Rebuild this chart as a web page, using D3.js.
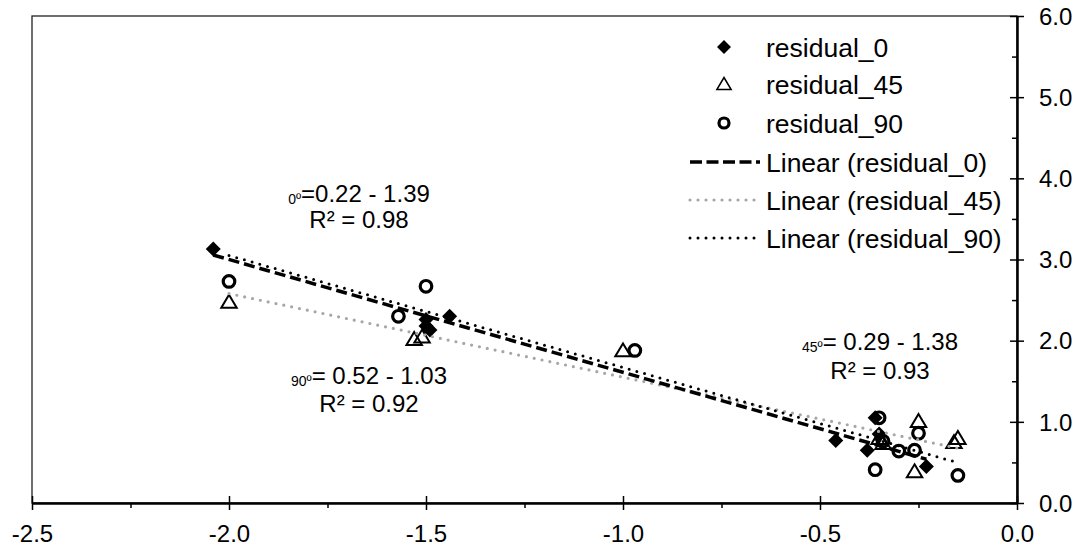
<!DOCTYPE html>
<html>
<head>
<meta charset="UTF-8">
<style>
  body { margin: 0; background: #fff; }
  svg text { font-family: "Liberation Sans", Arial, sans-serif; fill: #000; }
  .axis path { stroke: #000; stroke-width: 2.5; }
  .axis line { stroke: #000; stroke-width: 1.5; }
  .axis text { font-size: 24px; }
</style>
<script src="https://cdn.jsdelivr.net/npm/d3@7"></script>
</head>
<body>
<svg width="1083" height="550"></svg>
<script>
// data
var res0X = [-2.04, -1.50, -1.50, -1.49, -1.44, -0.46, -0.38, -0.36, -0.35, -0.23];
var res0Y = [3.13, 2.26, 2.18, 2.13, 2.30, 0.77, 0.65, 1.05, 0.85, 0.45];

var res45X = [-2.00, -1.53, -1.51, -1.00, -0.35, -0.34, -0.25, -0.26, -0.16, -0.15];
var res45Y = [2.48, 2.02, 2.05, 1.88, 0.80, 0.74, 1.01, 0.39, 0.75, 0.80];

var res90X = [-2.00, -1.57, -1.50, -0.97, -0.35, -0.36, -0.30, -0.26, -0.25, -0.15, -0.34];
var res90Y = [2.73, 2.30, 2.67, 1.88, 1.05, 0.41, 0.64, 0.65, 0.86, 0.34, 0.76];

// trendlines: [intercept, slope, xmin, xmax]
var trend0 = [0.22, -1.39, -2.04, -0.23];
var trend45 = [0.52, -1.03, -2.00, -0.15];
var trend90 = [0.29, -1.38, -2.00, -0.15];

var xMajor = [-2.5, -2.0, -1.5, -1.0, -0.5, 0.0];
var xMinor = [-2.25, -1.75, -1.25, -0.75, -0.25];
var yMajor = [0, 1, 2, 3, 4, 5, 6];
var yMinor = [0.5, 1.5, 2.5, 3.5, 4.5, 5.5];

var legendNames = ['residual_0', 'residual_45', 'residual_90',
  'Linear (residual_0)', 'Linear (residual_45)', 'Linear (residual_90)'];

// annotations: [small prefix, rest, R² line]
var notes = [
  ['0º', '=0.22 - 1.39', 'R² = 0.98'],
  ['90º', '= 0.52 - 1.03', 'R² = 0.92'],
  ['45º', '= 0.29 - 1.38', 'R² = 0.93']
];

var svg = d3.select('svg');
var x = d3.scaleLinear().domain([-2.5, 0]).range([32, 1017]);
var y = d3.scaleLinear().domain([0, 6]).range([503, 16]);
var fmt = function(d) { return d3.format('.1f')(d).replace('\u2212', '-'); };

var styles = {
  dash:   { stroke: '#000', width: 3.5, dash: '11,5', cap: 'butt' },
  gray:   { stroke: '#a6a6a6', width: 3.2, dash: '0,8', cap: 'round' },
  dotted: { stroke: '#000', width: 3, dash: '0,8', cap: 'round' }
};

// plot frame
svg.append('rect')
  .attr('x', x(-2.5)).attr('y', y(6))
  .attr('width', x(0) - x(-2.5)).attr('height', y(0) - y(6))
  .attr('fill', 'none').attr('stroke', '#222').attr('stroke-width', 1.3);

// x axis
var xAxis = svg.append('g').attr('class', 'axis')
  .attr('transform', 'translate(0,' + y(0) + ')')
  .call(d3.axisBottom(x).tickValues(xMajor).tickFormat(fmt).tickSizeOuter(0));
xAxis.selectAll('.tick line').attr('y1', -7).attr('y2', 7);
xAxis.selectAll('.tick text').attr('y', 22).attr('dy', '0.71em');
svg.append('g').attr('class', 'axis')
  .attr('transform', 'translate(0,' + y(0) + ')')
  .call(d3.axisBottom(x).tickValues(xMinor).tickSize(5).tickFormat(''))
  .select('.domain').remove();

// y axis on the right
var yAxis = svg.append('g').attr('class', 'axis')
  .attr('transform', 'translate(' + x(0) + ',0)')
  .call(d3.axisRight(y).tickValues(yMajor).tickFormat(fmt).tickSizeOuter(0));
yAxis.selectAll('.tick line').attr('x1', -7).attr('x2', 7);
yAxis.selectAll('.tick text').attr('x', 22).attr('dy', '0.34em');
svg.append('g').attr('class', 'axis')
  .attr('transform', 'translate(' + x(0) + ',0)')
  .call(d3.axisLeft(y).tickValues(yMinor).tickSize(5).tickFormat(''))
  .select('.domain').remove();

// markers
function diamond(g, s) {
  return g.append('path')
    .attr('d', 'M0,' + -s + 'L' + s + ',0L0,' + s + 'L' + -s + ',0Z')
    .attr('fill', '#000');
}
function triangle(g, s, w) {
  return g.append('path')
    .attr('d', 'M0,' + (-s) + 'L' + (s * 1.1) + ',' + (s * 0.85) + 'L' + (-s * 1.1) + ',' + (s * 0.85) + 'Z')
    .attr('fill', 'none').attr('stroke', '#000').attr('stroke-width', w);
}
function circle(g, r) {
  return g.append('circle').attr('r', r)
    .attr('fill', 'none').attr('stroke', '#000').attr('stroke-width', 3.2);
}

var pts = svg.append('g');
res90X.forEach(function(v, i) {
  circle(pts.append('g').attr('transform', 'translate(' + x(v) + ',' + y(res90Y[i]) + ')'), 5.8);
});
res45X.forEach(function(v, i) {
  triangle(pts.append('g').attr('transform', 'translate(' + x(v) + ',' + y(res45Y[i]) + ')'), 7, 2);
});
res0X.forEach(function(v, i) {
  diamond(pts.append('g').attr('transform', 'translate(' + x(v) + ',' + y(res0Y[i]) + ')'), 7.5);
});

// trendlines
function trendLine(t, st) {
  svg.append('line')
    .attr('x1', x(t[2])).attr('y1', y(t[0] + t[1] * t[2]))
    .attr('x2', x(t[3])).attr('y2', y(t[0] + t[1] * t[3]))
    .attr('stroke', st.stroke).attr('stroke-width', st.width)
    .attr('stroke-dasharray', st.dash).attr('stroke-linecap', st.cap);
}
trendLine(trend45, styles.gray);
trendLine(trend0, styles.dash);
trendLine(trend90, styles.dotted);

// annotations
var notePos = [[359, 202, 228], [369, 384, 412], [880, 350, 379]];
notes.forEach(function(n, i) {
  var p = notePos[i];
  var t1 = svg.append('text').attr('x', p[0]).attr('y', p[1])
    .attr('text-anchor', 'middle').style('font-size', '24px');
  t1.append('tspan').style('font-size', '14px').attr('dy', 2).text(n[0]);
  t1.append('tspan').attr('dy', -2).text(n[1]);
  svg.append('text').attr('x', p[0]).attr('y', p[2])
    .attr('text-anchor', 'middle').style('font-size', '24px').text(n[2]);
});

// legend
var legend = svg.append('g');
var rowY = [47, 84, 123, 162, 200, 238];
legendNames.forEach(function(name, i) {
  var row = legend.append('g').attr('transform', 'translate(0,' + rowY[i] + ')');
  row.append('text').attr('x', 766).attr('dy', '0.36em')
    .style('font-size', '26.5px').text(name);
  var m = row.append('g').attr('transform', 'translate(724,0)');
  if (i === 0) diamond(m, 7);
  if (i === 1) triangle(m, 6.5, 1.5);
  if (i === 2) circle(m, 5);
  if (i >= 3) {
    var st = [styles.dash, styles.gray, styles.dotted][i - 3];
    row.append('line').attr('x1', 690).attr('x2', 760)
      .attr('stroke', st.stroke).attr('stroke-width', st.width)
      .attr('stroke-dasharray', i === 3 ? '12,4.5' : st.dash).attr('stroke-linecap', st.cap);
  }
});
</script>
</body>
</html>
